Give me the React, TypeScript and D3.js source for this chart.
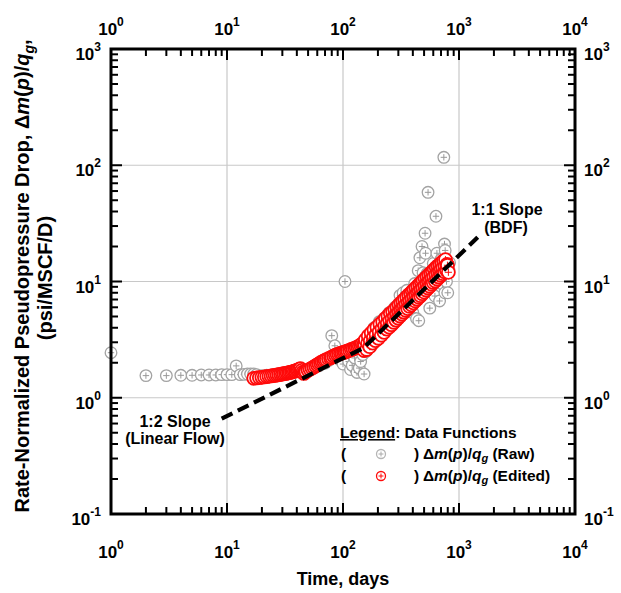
import * as d3 from "d3";

// raw data (grey)
const rawDays = [1, 2, 3, 4, 5, 6, 7, 8, 9, 10, 11, 12, 13, 14, 15, 16, 17, 18, 20, 22, 25, 28, 32, 36, 40, 45,
  50, 56, 62, 70, 76, 80, 85, 90, 95, 100, 104, 108, 112, 116, 120, 126, 132, 138, 142, 148, 152, 158,
  165, 175, 185, 195, 205, 215, 225, 240, 250, 265, 280, 290, 295, 310, 325, 330, 345, 355, 365, 380,
  395, 400, 415, 430, 445, 450, 460, 475, 480, 490, 510, 515, 530, 541, 560, 580, 600, 620, 633, 645,
  660, 680, 700, 720, 740, 750, 755, 760, 780, 800, 820, 830];
const rawRate = [2.44, 1.55, 1.55, 1.56, 1.56, 1.57, 1.57, 1.57, 1.58, 1.58, 1.58, 1.88, 1.58, 1.59, 1.6, 1.6, 1.6, 1.58, 1.55, 1.56, 1.58, 1.6, 1.63, 1.66, 1.7, 1.72,
  1.7, 1.8, 1.88, 1.98, 2.1, 3.42, 2.8, 2.2, 2.1, 1.95, 10, 2.3, 2.05, 1.75, 1.9, 2.2, 1.65, 1.8, 2.05, 2.35, 1.6, 2.5,
  3.4, 2.8, 4.0, 3.2, 4.5, 3.5, 4.8, 4.0, 5.4, 4.3, 6.0, 5.3, 4.7, 7.6, 5.2, 8.0, 6.2, 8.4, 5.5, 7.9,
  6.5, 5.4, 9.6, 4.8, 12.4, 4.6, 16, 8.5, 20, 11.9, 26, 17.5, 11.7, 58.5, 5.9, 9.0, 14.3, 7.5, 36.4, 17.5,
  10.5, 6.8, 15.5, 9.5, 117, 21, 8.0, 18.5, 10, 8.0, 12.5, 14.5];

// edited data (red)
const editedDays = [17, 18, 19, 20, 21, 22, 23, 24, 25, 26, 27, 28, 29, 30, 31, 32, 33, 34, 35, 36, 37, 38, 39, 40, 41, 42, 43, 44, 45, 46,
  47, 48, 50, 52, 54, 56, 58, 60, 62, 64, 66, 68, 70, 72, 75, 78, 80, 83, 86, 89, 92, 95, 98, 101, 104, 107,
  110, 114, 118, 122, 126, 130, 134, 138, 142, 146, 150,
  152, 154, 156, 160, 163, 165, 170, 172, 175, 180, 183, 185, 190, 193, 196, 202, 205, 208, 214, 217, 220,
  226, 229, 232, 238, 241, 244, 250, 253, 256, 262, 265, 268, 274, 277, 280, 286, 289, 292, 298, 301, 304,
  310, 313, 316, 322, 325, 328, 334, 337, 340, 347, 350, 354, 361, 365, 368, 375, 378, 382, 389, 392, 396,
  403, 406, 410, 418, 422, 426, 434, 438, 442, 450, 454, 458, 466, 470, 474, 482, 486, 490, 500, 505, 510,
  520, 525, 530, 540, 545, 550, 560, 565, 570, 580, 585, 590, 600, 606, 612, 624, 630, 636, 648, 654, 660,
  672, 678, 684, 696, 702, 708, 720, 727, 735, 750, 757, 765, 780, 787, 795, 810];
const editedRate = [1.47, 1.48, 1.49, 1.5, 1.51, 1.52, 1.53, 1.54, 1.55, 1.56, 1.57, 1.58, 1.59, 1.6, 1.61, 1.62, 1.63, 1.64, 1.65, 1.66, 1.68, 1.69, 1.7, 1.72, 1.74, 1.76, 1.78, 1.72, 1.66, 1.62,
  1.66, 1.68, 1.72, 1.76, 1.8, 1.84, 1.88, 1.92, 1.96, 2.0, 2.03, 2.06, 2.1, 2.13, 2.17, 2.2, 2.24, 2.28, 2.32, 2.35, 2.38, 2.41, 2.43, 2.45, 2.47, 2.5,
  2.53, 2.56, 2.6, 2.63, 2.66, 2.7, 2.74, 2.78, 2.84, 2.9, 2.85,
  2.55, 2.85, 3.15, 2.6, 2.95, 3.4, 2.75, 3.1, 3.6, 2.95, 3.3, 3.85, 3.1, 3.5, 4.05, 3.25, 3.7, 4.3, 3.45, 3.95, 4.5,
  3.65, 4.15, 4.8, 3.9, 4.4, 5.05, 4.05, 4.6, 5.3, 4.25, 4.8, 5.5, 4.45, 5.0, 5.75, 4.65, 5.25, 6.0, 4.85, 5.45, 6.3,
  5.05, 5.7, 6.55, 5.25, 5.9, 6.8, 5.45, 6.15, 7.05, 5.65, 6.4, 7.35, 5.85, 6.6, 7.65, 6.1, 6.85, 7.9, 6.3, 7.1, 8.2,
  6.55, 7.4, 8.5, 6.8, 7.65, 8.85, 7.05, 7.95, 9.15, 7.3, 8.25, 9.5, 7.55, 8.55, 9.8, 7.85, 8.85, 10.2, 8.1, 9.2, 10.6,
  8.45, 9.55, 11.0, 8.8, 9.9, 11.4, 9.1, 10.3, 11.8, 9.45, 10.7, 12.2, 9.8, 11.0, 12.7, 10.1, 11.5, 13.2, 10.5, 11.9, 13.6,
  10.9, 12.3, 14.0, 11.3, 12.8, 14.5, 11.7, 13.2, 15.0, 12.1, 13.6, 15.4, 12.5, 14.0, 13.8, 12.0];

// straight-line guides: 1:2 then 1:1
const slopeDays = [9, 150, 1450];
const slopeRate = [0.66, 2.68, 24];

const xExponents = ["0", "1", "2", "3", "4"];
const yExponents = ["-1", "0", "1", "2", "3"];

const W = 621;
const H = 593;
const left = 111, right = 575, top = 49, bottom = 514;
const font = "'Liberation Sans', Arial, Helvetica, sans-serif";

function Marker({ cx, cy, color, plus, r = 5.5, sw = 1.3 }) {
  const a = r * 0.55;
  return (
    <g transform={`translate(${cx},${cy})`}>
      <circle r={r} fill="#fff" stroke={color} strokeWidth={sw} />
      <path d={`M${-a},0H${a}M0,${-a}V${a}`} stroke={plus} strokeWidth={1} />
    </g>
  );
}

export default function App() {
  const x = d3.scaleLog().domain([1, 1e4]).range([left, right]);
  const y = d3.scaleLog().domain([0.1, 1e3]).range([bottom, top]);
  const xt = x.ticks();
  const yt = y.ticks();
  const isMajor = (v) => Math.abs(Math.log10(v) - Math.round(Math.log10(v))) < 1e-9;
  const xMajor = xt.filter(isMajor);
  const yMajor = yt.filter(isMajor);
  const line = d3.line().x((d) => x(d[0])).y((d) => y(d[1]));
  const slopePts = slopeDays.map((d, i) => [d, slopeRate[i]]);
  const grey = "#a3a3a3";
  const red = "#ff0a0a";

  return (
    <svg width={W} height={H} style={{ position: "absolute", left: 0, top: 0, background: "#fff" }}
      fontFamily={font} fontWeight="bold">
      {/* grid */}
      {xMajor.slice(1, -1).map((v) => (
        <line key={"gx" + v} x1={x(v)} x2={x(v)} y1={top} y2={bottom} stroke="#c8c8c8" strokeWidth={1.2} />
      ))}
      {yMajor.slice(1, -1).map((v) => (
        <line key={"gy" + v} y1={y(v)} y2={y(v)} x1={left} x2={right} stroke="#c8c8c8" strokeWidth={1.2} />
      ))}

      {/* data */}
      {rawDays.map((d, i) => (
        <Marker key={"r" + i} cx={x(d)} cy={y(rawRate[i])} color={grey} plus="#999" r={5.8} />
      ))}
      {editedDays.map((d, i) => (
        <Marker key={"e" + i} cx={x(d)} cy={y(editedRate[i])} color={red} plus={red} r={6.5} sw={1.8} />
      ))}

      <path d={line(slopePts)} fill="none" stroke="#000" strokeWidth={4.2} strokeDasharray="12,6" />

      {/* ticks */}
      {xt.map((v) => {
        const len = isMajor(v) ? 11 : 7;
        return (
          <g key={"tx" + v}>
            <line x1={x(v)} x2={x(v)} y1={bottom} y2={bottom - len} stroke="#000" strokeWidth={2} />
            <line x1={x(v)} x2={x(v)} y1={top} y2={top + len} stroke="#000" strokeWidth={2} />
          </g>
        );
      })}
      {yt.map((v) => {
        const len = isMajor(v) ? 11 : 7;
        return (
          <g key={"ty" + v}>
            <line y1={y(v)} y2={y(v)} x1={left} x2={left + len} stroke="#000" strokeWidth={2} />
            <line y1={y(v)} y2={y(v)} x1={right} x2={right - len} stroke="#000" strokeWidth={2} />
          </g>
        );
      })}
      <rect x={left} y={top} width={right - left} height={bottom - top} fill="none" stroke="#000" strokeWidth={3} />

      {/* tick labels */}
      {xMajor.map((v, i) => (
        <g key={"lx" + v} fontSize={17}>
          <text x={x(v)} y={35} textAnchor="middle">
            10<tspan dy={-9} fontSize={12}>{xExponents[i]}</tspan>
          </text>
          <text x={x(v)} y={558} textAnchor="middle">
            10<tspan dy={-9} fontSize={12}>{xExponents[i]}</tspan>
          </text>
        </g>
      ))}
      {yMajor.map((v, i) => (
        <g key={"ly" + v} fontSize={17}>
          <text x={101} y={y(v) + 11} textAnchor="end">
            10<tspan dy={-9} fontSize={12}>{yExponents[i]}</tspan>
          </text>
          <text x={584} y={y(v) + 11} textAnchor="start">
            10<tspan dy={-9} fontSize={12}>{yExponents[i]}</tspan>
          </text>
        </g>
      ))}

      {/* axis titles */}
      <text x={343} y={585} textAnchor="middle" fontSize={18}>Time, days</text>
      <text transform="translate(29,276) rotate(-90)" textAnchor="middle" fontSize={20}>
        Rate-Normalized Pseudopressure Drop, Δ<tspan fontStyle="italic">m</tspan>(<tspan fontStyle="italic">p</tspan>)/<tspan fontStyle="italic">q</tspan><tspan fontStyle="italic" fontSize={14} dy={5}>g</tspan><tspan dy={-5}>,</tspan>
      </text>
      <text transform="translate(52,278) rotate(-90)" textAnchor="middle" fontSize={20}>(psi/MSCF/D)</text>

      {/* annotations */}
      <g fontSize={16} textAnchor="middle">
        <text x={175} y={427}>1:2 Slope</text>
        <text x={175} y={444}>(Linear Flow)</text>
        <text x={507} y={215}>1:1 Slope</text>
        <text x={506} y={233}>(BDF)</text>
      </g>

      {/* legend */}
      <g fontSize={15.5}>
        <text x={340} y={438}>
          <tspan textDecoration="underline">Legend</tspan>: Data Functions
        </text>
        <text x={341} y={459}>(</text>
        <Marker cx={381} cy={454} color="#b5b5b5" plus="#aaa" r={4.5} />
        <text x={414} y={459}>
          ) Δ<tspan fontStyle="italic">m</tspan>(<tspan fontStyle="italic">p</tspan>)/<tspan fontStyle="italic">q</tspan><tspan fontStyle="italic" fontSize={11} dy={3}>g</tspan><tspan dy={-3}> (Raw)</tspan>
        </text>
        <text x={341} y={481}>(</text>
        <Marker cx={381} cy={476} color={red} plus={red} r={4.5} />
        <text x={414} y={481}>
          ) Δ<tspan fontStyle="italic">m</tspan>(<tspan fontStyle="italic">p</tspan>)/<tspan fontStyle="italic">q</tspan><tspan fontStyle="italic" fontSize={11} dy={3}>g</tspan><tspan dy={-3}> (Edited)</tspan>
        </text>
      </g>
    </svg>
  );
}
